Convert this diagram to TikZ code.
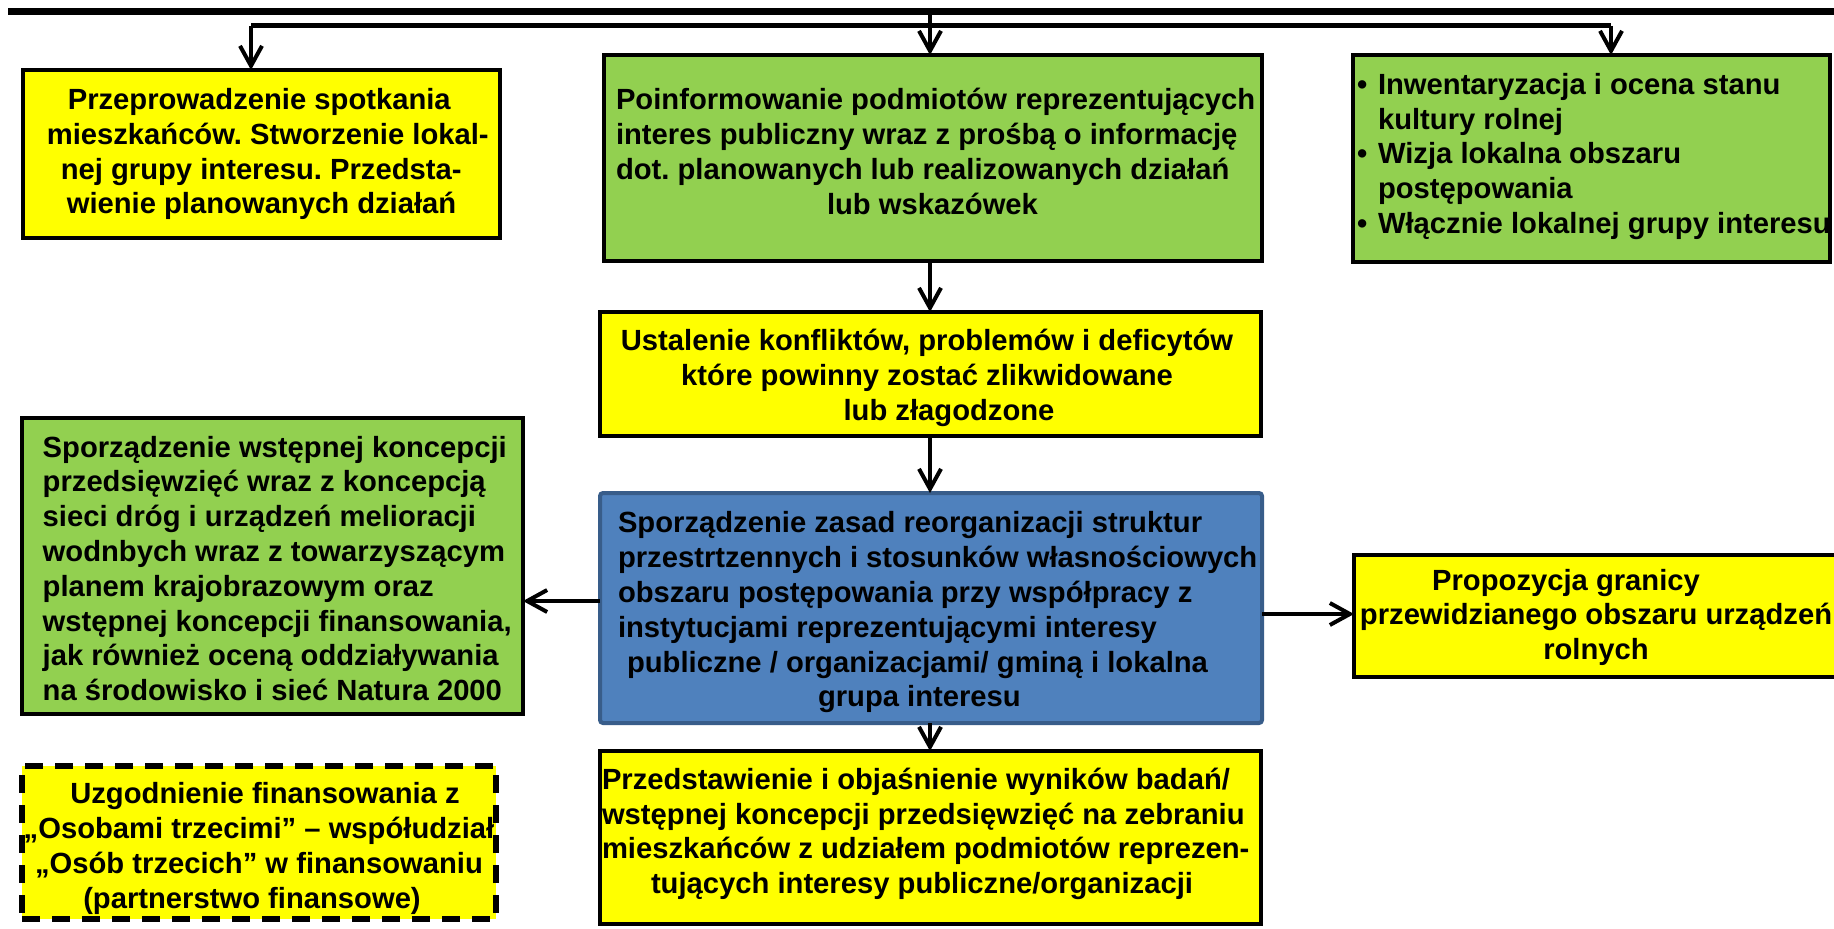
\documentclass[tikz,border=0pt]{standalone}
\usepackage{fontspec}
\setmainfont{Liberation Sans}
\usetikzlibrary{arrows.meta}
\definecolor{yel}{HTML}{FFFF00}
\definecolor{grn}{HTML}{92D050}
\definecolor{blu}{HTML}{4F81BD}
\definecolor{bluedge}{HTML}{385D8A}
\begin{document}
\frenchspacing
\begin{tikzpicture}[x=0.5pt,y=-0.5pt,
  box/.style={draw=black, line width=2.4pt, inner sep=0pt, outer sep=0pt, rectangle},
  yelbox/.style={box, fill=yel},
  grnbox/.style={box, fill=grn},
  blubox/.style={box, draw=bluedge, fill=blu, line width=2pt, rounded corners=1.5pt},
  dashbox/.style={box, fill=yel, line width=2.8pt, dash pattern=on 9pt off 6pt},
  txt/.style={inner sep=0pt, outer sep=0pt, font=\fontsize{14.6}{17.4}\selectfont\bfseries},
  arr/.style={line width=2pt, -{Straight Barb[length=10pt,width=11pt]}}]
\useasboundingbox (0,0) rectangle (1834,928);
\fill[white] (0,0) rectangle (1834,928);

% boxes
\node[yelbox, minimum width=238.5pt, minimum height=84pt] (A) at (261.5,154) {};
\node[grnbox, minimum width=329pt, minimum height=103pt] (B) at (933,158) {};
\node[grnbox, minimum width=238.5pt, minimum height=103.5pt] (C) at (1591.5,158.5) {};
\node[yelbox, minimum width=330.5pt, minimum height=62pt] (D) at (930.5,374) {};
\node[grnbox, minimum width=250.5pt, minimum height=148pt] (E) at (272.5,566) {};
\node[blubox, minimum width=331pt, minimum height=115pt] (F) at (931,608) {};
\node[yelbox, minimum width=253pt, minimum height=61pt] (G) at (1607,616) {};
\node[dashbox, minimum width=237pt, minimum height=76.5pt] (H) at (259,842.5) {};
\node[yelbox, minimum width=330.5pt, minimum height=86.5pt] (I) at (930.5,837.5) {};

% texts
\node[txt, anchor=west, align=left] (tA) at (46.8,154.7) {\strut\hspace*{10.5pt}Przeprowadzenie spotkania\\mieszkańców. Stworzenie lokal-\\\hspace*{7pt}nej grupy interesu. Przedsta-\\\hspace*{10pt}wienie planowanych działań\strut};
\node[txt, anchor=west, align=left] (tB) at (616,155) {\strut Poinformowanie podmiotów reprezentujących\\interes publiczny wraz z prośbą o informację\\dot. planowanych lub realizowanych działań\\\hspace*{105.5pt}lub wskazówek\strut};
\node[txt, anchor=west, align=left] (tC) at (1357,157) {\strut\makebox[10.5pt][l]{•}Inwentaryzacja i ocena stanu\\\hspace*{10.5pt}kultury rolnej\\\makebox[10.5pt][l]{•}Wizja lokalna obszaru\\\hspace*{10.5pt}postępowania\\\makebox[10.5pt][l]{•}Włącznie lokalnej grupy interesu\strut};
\node[txt, align=center] (tD) at (927,378.6) {\strut Ustalenie konfliktów, problemów i deficytów\\które powinny zostać zlikwidowane\hspace*{5pt}\\\hspace*{22pt}lub złagodzone\strut};
\node[txt, anchor=west, align=left] (tE) at (42.7,572) {\strut Sporządzenie wstępnej koncepcji\\przedsięwzięć wraz z koncepcją\\sieci dróg i urządzeń melioracji\\wodnbych wraz z towarzyszącym\\planem krajobrazowym oraz\\wstępnej koncepcji finansowania,\\jak również oceną oddziaływania\\na środowisko i sieć Natura 2000\strut};
\node[txt, anchor=west, align=left] (tF) at (618,613) {\strut Sporządzenie zasad reorganizacji struktur\\przestrtzennych i stosunków własnościowych\\obszaru postępowania przy współpracy z\\instytucjami reprezentującymi interesy\\\hspace*{4.5pt}publiczne / organizacjami/ gminą i lokalna\\\hspace*{100pt}grupa interesu\strut};
\node[txt, align=center] (tG) at (1596,618) {\strut Propozycja granicy\hspace*{30pt}\\przewidzianego obszaru urządzeń\\rolnych\strut};
\node[txt, align=center] (tH) at (259,849) {\strut\hspace*{6pt}Uzgodnienie finansowania z\\„Osobami trzecimi” – współudział\\„Osób trzecich” w finansowaniu\hspace*{11pt}\\(partnerstwo finansowe)\hspace*{7pt}\strut};
\node[txt, anchor=west, align=left] (tI) at (602,834.5) {\strut Przedstawienie i objaśnienie wyników badań/\\wstępnej koncepcji przedsięwzięć na zebraniu\\mieszkańców z udziałem podmiotów reprezen-\\\hspace*{24.5pt}tujących interesy publiczne/organizacji\strut};

% top lines
\coordinate (tl) at (8,11.7);
\coordinate (tr) at (1834,11.7);
\coordinate (hl) at (251,25.8);
\coordinate (hr) at (1611,25.8);
\coordinate (cx) at (930,11.7);
\coordinate (ly) at (0,601);
\coordinate (ry) at (0,614);
\draw[line width=3.35pt] (tl) -- (tr);
\draw[line width=2.5pt] (hl) -- (hr);

% connectors
\draw[arr] (cx) -- (cx |- B.north);
\draw[arr] (hl) -- (hl |- A.north);
\draw[arr] (hr) -- (hr |- C.north);
\draw[arr] (B.south -| cx) -- (D.north -| cx);
\draw[arr] (D.south -| cx) -- (F.north -| cx);
\draw[arr] (F.south -| cx) -- (I.north -| cx);
\draw[arr] (F.west |- ly) -- (E.east |- ly);
\draw[arr] (F.east |- ry) -- (G.west |- ry);
\end{tikzpicture}
\end{document}
